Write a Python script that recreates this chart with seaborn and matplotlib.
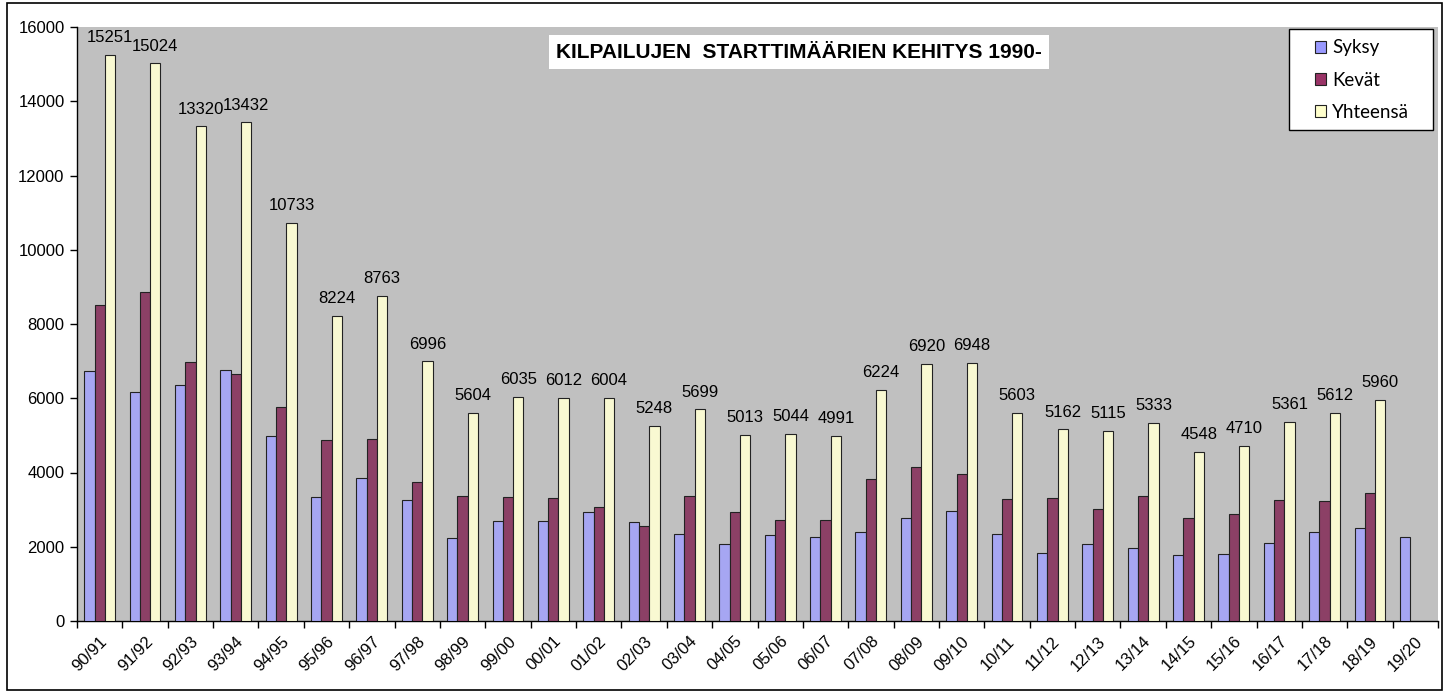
import matplotlib
matplotlib.use("Agg")
import matplotlib.pyplot as plt
import seaborn as sns
import numpy as np
import pandas as pd
from matplotlib.patches import Rectangle, Patch

seasons = ["90/91", "91/92", "92/93", "93/94", "94/95", "95/96", "96/97", "97/98", "98/99", "99/00",
           "00/01", "01/02", "02/03", "03/04", "04/05", "05/06", "06/07", "07/08", "08/09", "09/10",
           "10/11", "11/12", "12/13", "13/14", "14/15", "15/16", "16/17", "17/18", "18/19", "19/20"]
syksy = [6740, 6160, 6350, 6770, 4970, 3345, 3865, 3250, 2240, 2705,
         2705, 2945, 2680, 2330, 2085, 2325, 2275, 2390, 2785, 2975,
         2330, 1845, 2085, 1960, 1780, 1815, 2110, 2390, 2510, 2265]
kevat = [8511, 8864, 6970, 6662, 5763, 4879, 4898, 3746, 3364, 3330,
         3307, 3059, 2568, 3369, 2928, 2719, 2716, 3834, 4135, 3973,
         3273, 3317, 3030, 3373, 2768, 2895, 3251, 3222, 3450, np.nan]
yhteensa = [15251, 15024, 13320, 13432, 10733, 8224, 8763, 6996, 5604, 6035,
            6012, 6004, 5248, 5699, 5013, 5044, 4991, 6224, 6920, 6948,
            5603, 5162, 5115, 5333, 4548, 4710, 5361, 5612, 5960, np.nan]
series_names = ["Syksy", "Kevät", "Yhteensä"]
colors = ["#9999FF", "#993366", "#FFFFCC"]
title = "KILPAILUJEN  STARTTIMÄÄRIEN KEHITYS 1990-"

df = pd.DataFrame({
    "kausi": seasons * 3,
    "arvo": syksy + kevat + yhteensa,
    "sarja": [series_names[0]] * len(seasons) + [series_names[1]] * len(seasons) + [series_names[2]] * len(seasons),
})

plt.rcParams["font.family"] = ["Liberation Sans", "DejaVu Sans"]

W, H = 1448, 693
fig = plt.figure(figsize=(W / 100, H / 100), dpi=100)
fig.patch.set_facecolor("white")
ax = fig.add_axes([77 / W, 1 - 621 / H, (1438 - 77) / W, (621 - 27) / H])
ax.set_facecolor("#C0C0C0")

sns.barplot(data=df, x="kausi", y="arvo", hue="sarja", order=seasons, hue_order=series_names,
            palette=colors, width=0.68, gap=0, errorbar=None, edgecolor="#222222", linewidth=0.8,
            legend=False, ax=ax, zorder=3)

ax.set_xlim(-0.5, len(seasons) - 0.5)
ax.set_ylim(0, 16000)
ax.set_yticks(np.arange(0, 16001, 2000))
ax.tick_params(axis="y", labelsize=12, length=5, width=1, direction="out", colors="black", pad=4)
ax.set_xticks(np.arange(len(seasons)))
ax.set_xticklabels(seasons, rotation=45, ha="right", rotation_mode="anchor", fontsize=12)
ax.tick_params(axis="x", which="major", length=0, pad=9)
ax.set_xticks(np.arange(len(seasons) + 1) - 0.5, minor=True)
ax.tick_params(axis="x", which="minor", length=5, width=1, direction="out")
ax.set_xlabel("")
ax.set_ylabel("")
for s in ["top", "right"]:
    ax.spines[s].set_visible(False)
for s in ["left", "bottom"]:
    ax.spines[s].set_color("black")
    ax.spines[s].set_linewidth(1)
ax.grid(False)

# value labels on totals
ax.bar_label(ax.containers[2], fmt="%d", padding=7, fontsize=12)

# title box
fig.text(799 / W, 1 - 52 / H, title, ha="center", va="center", fontsize=15, fontweight="bold",
         bbox=dict(facecolor="white", edgecolor="none", boxstyle="square,pad=0.35"))

# legend: white framed box with entries centred in it
fig.patches.append(Rectangle((1289 / W, 1 - 130 / H), (1433 - 1289) / W, (130 - 29) / H,
                             transform=fig.transFigure, facecolor="white", edgecolor="black",
                             linewidth=1, zorder=4))
handles = [Patch(facecolor=c, edgecolor="#222222", linewidth=0.8) for c in colors]
leg = fig.legend(handles, series_names, loc="center", bbox_to_anchor=(1362 / W, 1 - 80 / H),
                 frameon=False, prop={"family": "Lato", "size": 13.5}, handlelength=0.6,
                 handleheight=0.6, handletextpad=0.3, labelspacing=0.8, borderpad=0,
                 borderaxespad=0)
leg.set_zorder(5)

# outer chart border
fig.patches.append(Rectangle((7 / W, 3 / H), (1442 - 7) / W, (690 - 3) / H,
                             transform=fig.transFigure, fill=False, edgecolor="black", linewidth=1.2))

fig.savefig("out.png", dpi=100)
